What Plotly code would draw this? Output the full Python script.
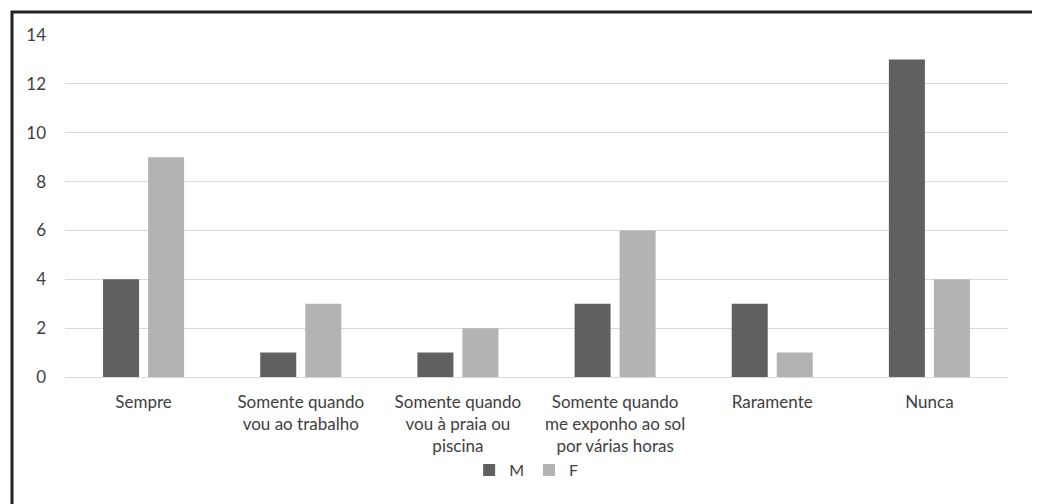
import plotly.graph_objects as go

categories = ["Sempre", "Somente quando<br>vou ao trabalho", "Somente quando<br>vou à praia ou<br>piscina",
              "Somente quando<br>me exponho ao sol<br>por várias horas", "Raramente", "Nunca"]
m_values = [4, 1, 1, 3, 3, 13]
f_values = [9, 3, 2, 6, 1, 4]
y_ticks = [0, 2, 4, 6, 8, 10, 12, 14]

font_family = "Lato, Open Sans, sans-serif"
txt = "#404040"

fig = go.Figure()
fig.add_trace(go.Bar(x=categories, y=m_values, name="M", marker=dict(color="#606060", line=dict(width=0))))
fig.add_trace(go.Bar(x=categories, y=f_values, name="F", marker=dict(color="#b3b3b3", line=dict(width=0))))

# page body has an 8px margin: compensate so the plot area lands at x 65..1008, y 35..377
fig.update_layout(
    width=1032, height=496,
    paper_bgcolor="white", plot_bgcolor="white",
    margin=dict(l=57, r=32, t=27, b=127),
    barmode="group", bargap=0.427, bargroupgap=0.2,
    font=dict(family=font_family, size=17, color=txt),
    showlegend=True,
    legend=dict(orientation="h", x=0.489, xanchor="center", y=-0.272, yanchor="middle",
                font=dict(size=16, color=txt), itemwidth=30, traceorder="normal",
                tracegroupgap=0, bgcolor="rgba(0,0,0,0)"),
    xaxis=dict(showgrid=False, showline=False, ticks="", tickangle=0, ticklabelstandoff=13,
               tickfont=dict(size=17, color=txt)),
    yaxis=dict(range=[0, 14], tickvals=y_ticks, showgrid=True, gridcolor="#d9d9d9", gridwidth=1,
               zeroline=True, zerolinecolor="#d9d9d9", zerolinewidth=1, showline=False,
               ticks="", ticklabelstandoff=18, tickfont=dict(size=17, color=txt)),
    shapes=[dict(type="rect", xref="paper", yref="paper", x0=-0.0562, x1=1.06, y0=-0.45, y1=1.0673,
                 line=dict(color="#222222", width=3), fillcolor="rgba(0,0,0,0)", layer="above")],
)

fig.write_html("out.html")
